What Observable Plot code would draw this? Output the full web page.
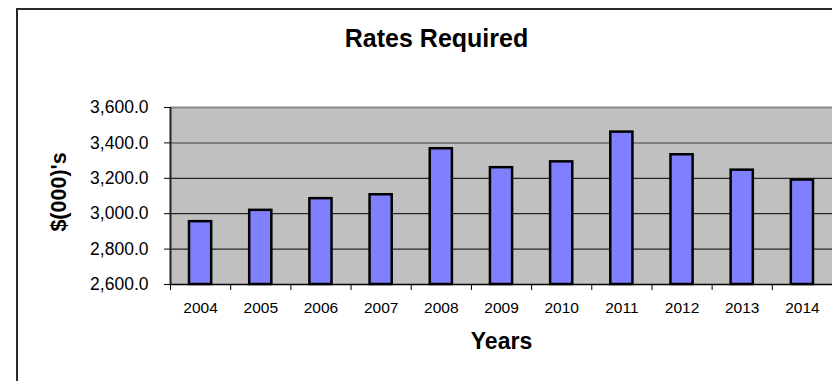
<!DOCTYPE html>
<html>
<head>
<meta charset="utf-8">
<script src="https://cdn.jsdelivr.net/npm/d3@7"></script>
<script src="https://cdn.jsdelivr.net/npm/@observablehq/plot@0.6"></script>
<style>
  html, body { margin: 0; padding: 0; background: #fff; }
  #wrap { position: relative; width: 832px; height: 381px; overflow: hidden; }
  #box { position: absolute; left: 16px; top: 8px; width: 900px; height: 500px; border: 2px solid #2a2a2a; }
  #chart { position: absolute; left: 0; top: 0; }
</style>
</head>
<body>
<div id="wrap"><div id="box"></div><div id="chart"></div></div>
<script>
// Rates required per year, in thousands of dollars
const years = [2004, 2005, 2006, 2007, 2008, 2009, 2010, 2011, 2012, 2013, 2014];
const rates = [2955, 3019, 3085, 3107, 3367, 3260, 3293, 3461, 3333, 3246, 3190];
const yTicks = [2600, 2800, 3000, 3200, 3400, 3600];
const gridLines = [2800, 3000, 3200];
const title = "Rates Required";
const xTitle = "Years";
const yTitle = "$(000)'s";

const data = years.map((year, i) => ({year, rate: rates[i]}));
// category boundaries (tick marks sit between the years)
const boundaries = years.map(y => y - 0.5).concat([years[years.length - 1] + 0.5]);
const halfBar = 0.184;
const font = "'Liberation Sans', Arial, sans-serif";

const chart = Plot.plot({
  width: 832,
  height: 381,
  marginLeft: 170,
  marginRight: 0,
  marginTop: 107,
  marginBottom: 97,
  style: {fontFamily: font, background: "transparent", color: "#000", overflow: "visible"},
  x: {type: "linear", domain: [years[0] - 0.5, years[years.length - 1] + 0.5], label: null},
  y: {type: "linear", domain: [yTicks[0], yTicks[yTicks.length - 1]], label: null},
  marks: [
    Plot.frame({fill: "#c0c0c0", stroke: null}),
    Plot.ruleY(gridLines, {stroke: "#000", strokeWidth: 1}),
    Plot.ruleY([3400], {stroke: "#7f7f7f", strokeWidth: 2}),
    Plot.ruleY([3600], {stroke: "#8a8a8a", strokeWidth: 2}),
    Plot.rect(data, {
      x1: d => d.year - halfBar,
      x2: d => d.year + halfBar,
      y1: yTicks[0],
      y2: "rate",
      fill: "#8080ff",
      stroke: "#000",
      strokeWidth: 2.5
    }),
    Plot.ruleY([yTicks[0]], {stroke: "#000", strokeWidth: 1.5}),
    Plot.ruleX([boundaries[0]], {stroke: "#222", strokeWidth: 2}),
    Plot.axisY({
      ticks: yTicks,
      tickSize: 6,
      tickPadding: 16,
      tickFormat: d3.format(",.1f"),
      fontSize: 17.5,
      label: null
    }),
    Plot.axisX({
      ticks: boundaries,
      tickSize: 6,
      tickFormat: () => "",
      label: null
    }),
    Plot.axisX({
      ticks: years,
      tickSize: 0,
      tickPadding: 17,
      tickFormat: d => String(d),
      fontSize: 15.5,
      label: null
    }),
    Plot.text([title], {
      frameAnchor: "top", lineAnchor: "middle", textAnchor: "middle",
      dx: -65, dy: -68.5,
      fontSize: 25, fontWeight: "bold", fill: "#000"
    }),
    Plot.text([xTitle], {
      frameAnchor: "bottom", lineAnchor: "middle", textAnchor: "middle",
      dy: 57,
      fontSize: 23, fontWeight: "bold", fill: "#000"
    }),
    Plot.text([yTitle], {
      frameAnchor: "left", lineAnchor: "middle", textAnchor: "middle",
      dx: -111.5, dy: -4, rotate: -90,
      fontSize: 21.5, fontWeight: "bold", fill: "#000"
    })
  ]
});

document.getElementById("chart").appendChild(chart);
</script>
</body>
</html>
